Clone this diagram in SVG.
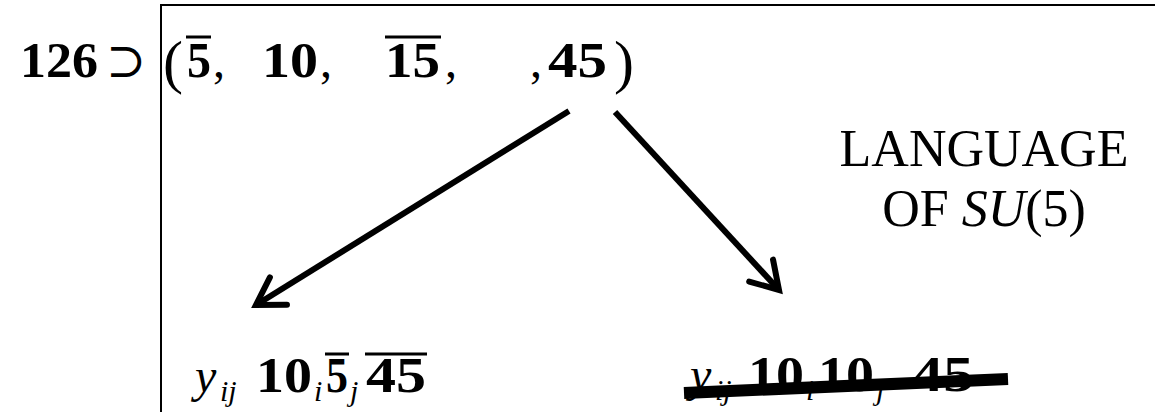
<svg xmlns="http://www.w3.org/2000/svg" width="1155" height="412" viewBox="0 0 1155 412">
<style>
.b{font-family:"Liberation Serif","DejaVu Serif",serif;font-weight:bold;font-size:50px;fill:#000}
.r{font-family:"Liberation Serif","DejaVu Serif",serif;font-size:48px;fill:#000}
.p{font-family:"Liberation Serif","DejaVu Serif",serif;font-size:60px;fill:#000}
.it{font-family:"Liberation Serif","DejaVu Serif",serif;font-style:italic;font-size:48px;fill:#000}
.sub{font-family:"Liberation Serif","DejaVu Serif",serif;font-style:italic;font-size:30px;fill:#000}
.lab{font-family:"Liberation Serif","DejaVu Serif",serif;font-size:52px;fill:#000}
.ov{stroke:#000;stroke-width:3;fill:none}
.arr{stroke:#000;stroke-width:6;fill:none;stroke-linecap:butt}
</style>
<defs>
<marker id="ah" markerWidth="8" markerHeight="8" refX="5.6" refY="4" orient="auto" markerUnits="strokeWidth">
<path d="M1.2,1.3 L5.6,4 L1.2,6.7" fill="none" stroke="#000" stroke-width="1" stroke-linecap="round" stroke-linejoin="miter"/>
</marker>
</defs>
<g id="frame">
<path d="M161,412 L161,5 L1155,5" fill="none" stroke="#000" stroke-width="2"/>
</g>
<g id="top-formula">
<text class="b" x="20" y="77" textLength="78" lengthAdjust="spacingAndGlyphs">126</text>
<text class="r" x="106" y="77" font-size="40" style="font-family:'DejaVu Serif',serif">⊃</text>
<text class="p" x="163" y="82">(</text>
<text class="b" x="187" y="77" textLength="24" lengthAdjust="spacingAndGlyphs">5</text>
<line class="ov" x1="186" y1="37" x2="211" y2="37"/>
<text class="r" x="213" y="77">,</text>
<text class="b" x="262" y="77" textLength="56" lengthAdjust="spacingAndGlyphs">10</text>
<text class="r" x="320" y="77">,</text>
<text class="b" x="385" y="77" textLength="55" lengthAdjust="spacingAndGlyphs">15</text>
<line class="ov" x1="385" y1="37" x2="441" y2="37"/>
<text class="r" x="445" y="77">,</text>
<text class="r" x="530" y="77">,</text>
<text class="b" x="548" y="77" textLength="59" lengthAdjust="spacingAndGlyphs">45</text>
<text class="p" x="614" y="82">)</text>
</g>
<g id="connectors">
<line class="arr" x1="569" y1="111" x2="256" y2="305" marker-end="url(#ah)"/>
<line class="arr" x1="615" y1="112" x2="779" y2="290" marker-end="url(#ah)"/>
</g>
<g id="label">
<text class="lab" x="984" y="166" text-anchor="middle">LANGUAGE</text>
<text class="lab" x="984" y="226" text-anchor="middle">OF <tspan font-style="italic">SU</tspan>(5)</text>
</g>
<g id="left-term">
<text class="it" x="195" y="392">y</text>
<text class="sub" x="220" y="401">ij</text>
<text class="b" x="256" y="392" textLength="56" lengthAdjust="spacingAndGlyphs">10</text>
<text class="sub" x="314" y="401">i</text>
<text class="b" x="326" y="392" textLength="22" lengthAdjust="spacingAndGlyphs">5</text>
<line class="ov" x1="325" y1="354" x2="349" y2="354"/>
<text class="sub" x="350" y="401">j</text>
<text class="b" x="366" y="392" textLength="60" lengthAdjust="spacingAndGlyphs">45</text>
<line class="ov" x1="365" y1="354" x2="427" y2="354"/>
</g>
<g id="right-term">
<text class="it" x="690" y="391">y</text>
<text class="sub" x="715" y="400">ij</text>
<text class="b" x="748" y="391" textLength="56" lengthAdjust="spacingAndGlyphs">10</text>
<text class="sub" x="806" y="400">i</text>
<text class="b" x="818" y="391" textLength="56" lengthAdjust="spacingAndGlyphs">10</text>
<text class="sub" x="876" y="400">j</text>
<text class="b" x="912" y="391" textLength="62" lengthAdjust="spacingAndGlyphs">45</text>
<line x1="684" y1="393" x2="1008" y2="379" stroke="#000" stroke-width="12"/>
</g>
</svg>
